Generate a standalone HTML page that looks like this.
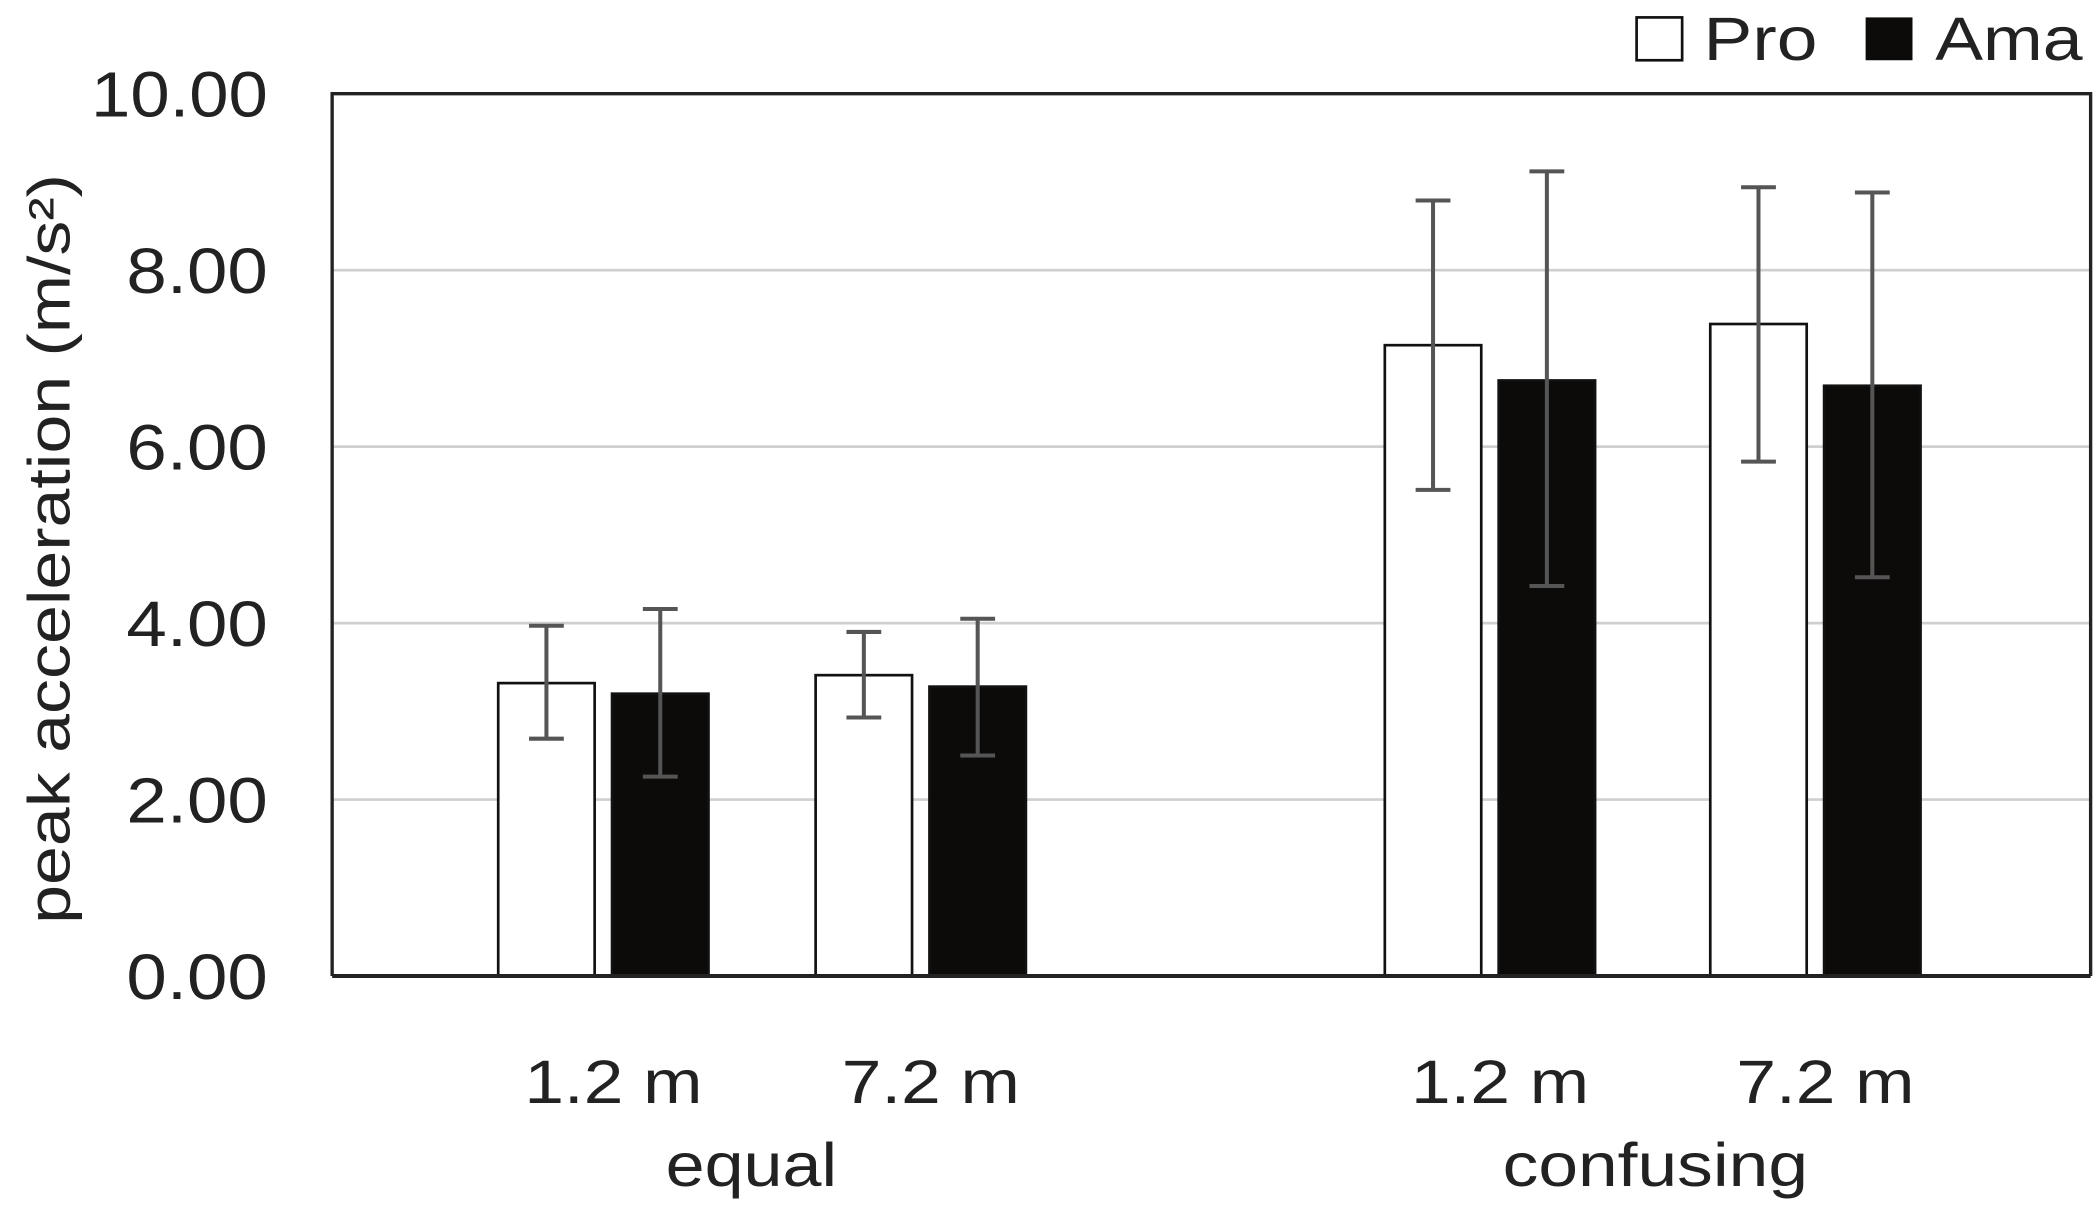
<!DOCTYPE html>
<html><head><meta charset="utf-8"><style>
html,body{margin:0;padding:0;background:#fff;}
svg{display:block;}
text{font-family:"Liberation Sans",sans-serif;fill:#222;}
</style></head><body>
<svg id="chart" width="2100" height="1209" viewBox="0 0 1568 903" preserveAspectRatio="none" xmlns="http://www.w3.org/2000/svg">
<g id="grid"></g>
<g id="bars"></g>
<g id="axes"></g>
<g>
<rect x="1222" y="13" width="34" height="32" fill="#fff" stroke="#111" stroke-width="2"/>
<text x="1272" y="45" font-size="46" textLength="85" lengthAdjust="spacingAndGlyphs">Pro</text>
<rect x="1393" y="13" width="35" height="32" fill="#0d0a0a"/>
<text x="1445" y="45" font-size="46" textLength="110" lengthAdjust="spacingAndGlyphs">Ama</text>
</g>
<text transform="translate(52,410) rotate(-90)" text-anchor="middle" font-size="44" textLength="560" lengthAdjust="spacingAndGlyphs">peak acceleration (m/s²)</text>
</svg>
<script>
const categories = ["1.2 m","7.2 m","1.2 m","7.2 m"];
const groups = ["equal","confusing"];
const proValues = [3.32,3.41,7.15,7.39];
const amaValues = [3.20,3.28,6.75,6.69];
const proErrLow = [2.69,2.93,5.51,5.83];
const proErrHigh = [3.97,3.90,8.79,8.94];
const amaErrLow = [2.26,2.50,4.42,4.52];
const amaErrHigh = [4.16,4.05,9.12,8.88];
const yTicks = [0,2,4,6,8,10];
const yTickLabels = ["0.00","2.00","4.00","6.00","8.00","10.00"];

const NS="http://www.w3.org/2000/svg";
const plotL=248, plotR=1561, y0=729, y10=70;
function y(v){return y0-(v/10)*(y0-y10);}
const catCenters=[450,687,1112,1355];
function mk(tag,attrs,parent){const e=document.createElementNS(NS,tag);for(const k in attrs)e.setAttribute(k,attrs[k]);parent.appendChild(e);return e;}
const grid=document.getElementById('grid'),bars=document.getElementById('bars'),axes=document.getElementById('axes');
yTicks.forEach((t,i)=>{
  if(t>0&&t<10){const l=mk('line',{x1:plotL,x2:plotR,y1:y(t),y2:y(t),stroke:'#cfcfcf','stroke-width':2},grid);
  
  }
  const w=yTickLabels[i].length*26.4;
  const tx=mk('text',{x:200,y:y(t)+17,'text-anchor':'end','font-size':48,textLength:w,lengthAdjust:'spacingAndGlyphs'},axes);
  tx.textContent=yTickLabels[i];
  
  
});
const bw=72;
function drawBar(cx,v,lo,hi,fill,name){
  const r=mk('rect',{x:cx,y:y(v),width:bw,height:y0-y(v),fill:fill,stroke:'#111','stroke-width':2},bars);
  
  
  const mx=cx+bw/2;
  const e=mk('path',{d:`M${mx},${y(hi)}V${y(lo)}M${mx-13},${y(hi)}H${mx+13}M${mx-13},${y(lo)}H${mx+13}`,stroke:'#555','stroke-width':3,fill:'none'},bars);
  
  
}
categories.forEach((c,i)=>{
  const cc=catCenters[i];
  drawBar(cc-78,proValues[i],proErrLow[i],proErrHigh[i],'#fff','bar-pro');
  drawBar(cc+7,amaValues[i],amaErrLow[i],amaErrHigh[i],'#0d0a0a','bar-ama');
  const t=mk('text',{x:cc+8,y:824,'text-anchor':'middle','font-size':46,textLength:133,lengthAdjust:'spacingAndGlyphs'},axes);
  t.textContent=c;
  
  
});
const groupW=[128,228];
[561,1236].forEach((gx,i)=>{
  const t=mk('text',{x:gx,y:886,'text-anchor':'middle','font-size':46,textLength:groupW[i],lengthAdjust:'spacingAndGlyphs'},axes);
  t.textContent=groups[i];
  
  
});
const frame=mk('path',{d:`M${plotL},${y0}V${y10}H${plotR}V${y0}`,stroke:'#222','stroke-width':2.5,fill:'none'},axes);


const base=mk('line',{x1:plotL,x2:plotR,y1:y0,y2:y0,stroke:'#222','stroke-width':3},axes);


</script>
</body></html>
